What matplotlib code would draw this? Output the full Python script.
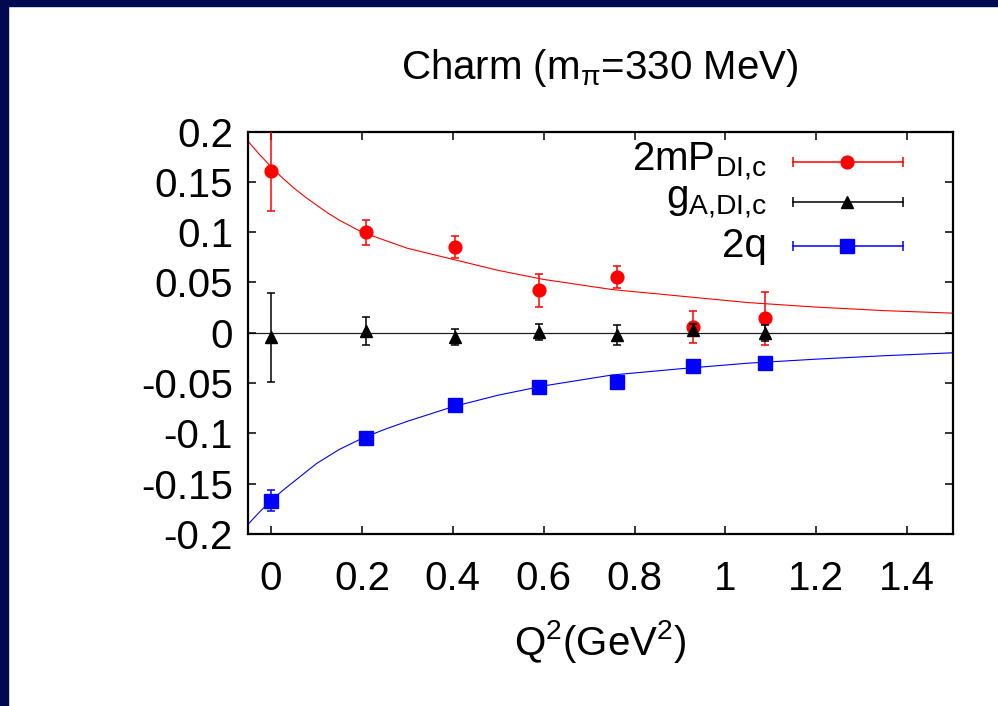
import matplotlib
matplotlib.use("Agg")
import matplotlib.pyplot as plt
from matplotlib.patches import Rectangle

plt.rcParams['font.family'] = ['Liberation Sans', 'DejaVu Sans']
plt.rcParams['mathtext.fontset'] = 'custom'
plt.rcParams['mathtext.rm'] = 'Liberation Sans'
plt.rcParams['mathtext.it'] = 'Liberation Sans:italic'

# lattice points, Q^2 in GeV^2
q2 = [0.0, 0.209, 0.405, 0.589, 0.762, 0.929, 1.087]

# 2mP_DI,c
mp_val = [0.161, 0.0998, 0.0852, 0.0421, 0.0554, 0.0060, 0.0143]
mp_err = [0.040, 0.0124, 0.011, 0.016, 0.0107, 0.016, 0.026]

# g_A,DI,c
ga_val = [-0.0043, 0.0020, -0.0040, 0.0007, -0.0023, 0.0027, -0.0006]
ga_err = [0.0443, 0.0140, 0.0080, 0.0080, 0.0098, 0.0063, 0.0080]

# 2q
q_val = [-0.167, -0.1044, -0.0719, -0.0540, -0.0487, -0.0331, -0.0298]
q_err = [0.0105, 0.004, 0.003, 0.003, 0.003, 0.003, 0.003]

# fit curves
fit_q2 = [-0.05, -0.025, 0.0, 0.025, 0.05, 0.075, 0.1, 0.125, 0.15, 0.2, 0.25, 0.3,
          0.4, 0.5, 0.6, 0.75, 0.9, 1.05, 1.2, 1.35, 1.5]
fit_mp = [0.190, 0.177, 0.165, 0.154, 0.144, 0.135, 0.127, 0.119, 0.112, 0.100, 0.092, 0.084,
          0.073, 0.062, 0.053, 0.043, 0.0365, 0.030, 0.0255, 0.022, 0.0195]
fit_q = [-0.190, -0.178, -0.167, -0.157, -0.148, -0.139, -0.130, -0.123, -0.116, -0.105,
         -0.096, -0.088, -0.0735, -0.062, -0.0528, -0.042, -0.0358, -0.0302, -0.0262,
         -0.0228, -0.0199]

xticks = [0, 0.2, 0.4, 0.6, 0.8, 1.0, 1.2, 1.4]
xticklabels = ['0', '0.2', '0.4', '0.6', '0.8', '1', '1.2', '1.4']
yticks = [0.2, 0.15, 0.1, 0.05, 0, -0.05, -0.1, -0.15, -0.2]
yticklabels = ['0.2', '0.15', '0.1', '0.05', '0', '-0.05', '-0.1', '-0.15', '-0.2']

labels = ['2mP$_\\mathregular{DI{,}c}$', 'g$_\\mathregular{A{,}DI{,}c}$', '2q']
colors = ['#ff0000', '#000000', '#0000ff']
markers = ['o', '^', 's']
msizes = [9.2, 8.5, 10]

fig = plt.figure(figsize=(9.98, 7.06), dpi=100)
ax = fig.add_axes([0.2488, 0.2436, 0.7058, 0.5701])

# slide border
fig.patches.append(Rectangle((0, 1 - 6 / 706), 1, 6 / 706, transform=fig.transFigure,
                             color='#000a50', zorder=10))
fig.patches.append(Rectangle((0, 0), 8 / 998, 1, transform=fig.transFigure,
                             color='#000a50', zorder=10))

ax.axhline(0, color='#202020', lw=0.9, zorder=1)
ax.plot(fit_q2, fit_mp, color=colors[0], lw=0.8, zorder=2)
ax.plot(fit_q2, fit_q, color=colors[2], lw=0.8, zorder=2)

series = [(mp_val, mp_err), (ga_val, ga_err), (q_val, q_err)]
for i, (vals, errs) in enumerate(series):
    ax.errorbar(q2, vals, yerr=errs, fmt=markers[i], color=colors[i], ms=msizes[i],
                mec=colors[i], elinewidth=1.1, capsize=3.2, capthick=1.1, zorder=3 + i)

# key, drawn by hand in axes coordinates
key_rows = [0.925, 0.824, 0.7155]
for i, lab in enumerate(labels):
    yk = key_rows[i]
    ax.plot([0.7729, 0.929], [yk, yk], color=colors[i], lw=1.1, transform=ax.transAxes,
            clip_on=False, zorder=6)
    ax.plot([0.7729, 0.929], [yk, yk], color=colors[i], marker='|', ms=7, mew=1.1, lw=0,
            transform=ax.transAxes, clip_on=False, zorder=6)
    ax.plot([0.8495], [yk], color=colors[i], marker=markers[i], ms=msizes[i], lw=0,
            transform=ax.transAxes, clip_on=False, zorder=7)
    ax.text(0.7364, yk, lab, transform=ax.transAxes, ha='right', va='center', fontsize=29)

ax.set_xlim(-0.05, 1.5)
ax.set_ylim(-0.2, 0.2)
ax.set_xticks(xticks)
ax.set_xticklabels(xticklabels)
ax.set_yticks(yticks)
ax.set_yticklabels(yticklabels)
ax.tick_params(direction='in', length=6, width=1.1, top=True, right=True, labelsize=29)
ax.tick_params(axis='y', pad=11)
ax.tick_params(axis='x', pad=19)
for sp in ax.spines.values():
    sp.set_linewidth(1.6)

fig.text(0.6012, 0.904, 'Charm (m$_\\mathregular{\\pi}$=330 MeV)', ha='center', va='center',
         fontsize=29)
fig.text(0.6012, 0.092, 'Q$^\\mathregular{2}$(GeV$^\\mathregular{2}$)', ha='center',
         va='center', fontsize=29)

fig.savefig('out.png', dpi=100)
